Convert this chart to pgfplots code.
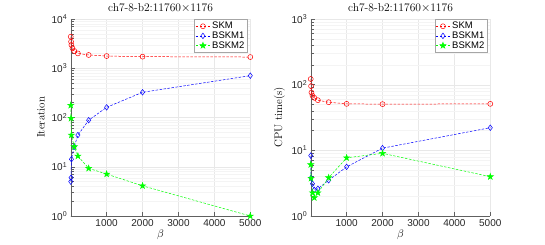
\documentclass[border=0pt]{standalone}
\usepackage{fontspec}
\usepackage{pgfplots}
\pgfplotsset{compat=1.18}
\newfontfamily\hv{Liberation Sans}
\definecolor{mred}{rgb}{1,0,0}
\definecolor{mblue}{rgb}{0,0,1}
\definecolor{mgreen}{rgb}{0,1,0}
\pgfdeclareplotmark{pentagram}{%
  \pgfpathmoveto{\pgfpointpolar{90}{\pgfplotmarksize}}%
  \pgfpathlineto{\pgfpointpolar{126}{0.382\pgfplotmarksize}}%
  \pgfpathlineto{\pgfpointpolar{162}{\pgfplotmarksize}}%
  \pgfpathlineto{\pgfpointpolar{198}{0.382\pgfplotmarksize}}%
  \pgfpathlineto{\pgfpointpolar{234}{\pgfplotmarksize}}%
  \pgfpathlineto{\pgfpointpolar{270}{0.382\pgfplotmarksize}}%
  \pgfpathlineto{\pgfpointpolar{306}{\pgfplotmarksize}}%
  \pgfpathlineto{\pgfpointpolar{342}{0.382\pgfplotmarksize}}%
  \pgfpathlineto{\pgfpointpolar{18}{\pgfplotmarksize}}%
  \pgfpathlineto{\pgfpointpolar{54}{0.382\pgfplotmarksize}}%
  \pgfpathclose
  \pgfusepathqfillstroke}
\pgfplotsset{
  mstyle/.style={
    scale only axis, width=179.6pt, height=197pt,
    xmin=0, xmax=5000,
    xtick={1000,2000,3000,4000,5000},
    xticklabels={1000,2000,3000,4000,5000},
    axis x line*=bottom, axis y line*=left,
    axis line style={gray!75!black, line width=0.4pt},
    tick style={gray!75!black, line width=0.4pt},
    tick align=inside,
    xmajorgrids, ymajorgrids, yminorgrids,
    major grid style={gray!18, line width=0.3pt},
    minor grid style={gray!9, line width=0.3pt},
    tick label style={font=\hv\fontsize{10}{11}\selectfont, text=black!85},
    label style={font=\fontsize{11}{13}\selectfont},
    title style={font=\fontsize{11.5}{13}\selectfont, yshift=-3pt},
    xlabel={$\beta$},
    xlabel style={yshift=4pt},
    legend style={at={(rel axis cs:0.985,1)}, anchor=north east,
      font=\hv\fontsize{9.5}{10.5}\selectfont, draw=gray!70, inner sep=1pt,
      row sep=-2.5pt, cells={anchor=west}},
    legend image code/.code={%
      \draw[mark repeat=2,mark phase=2] plot coordinates {(0pt,0pt)(7pt,0pt)(14pt,0pt)};},
  },
  skm/.style={color=mred, line width=0.5pt, dash pattern=on 2.5pt off 1.5pt, mark=o, mark size=2.5pt, mark options={solid}},
  b1/.style={color=mblue, line width=0.5pt, dash pattern=on 2.5pt off 1.5pt, mark=diamond, mark size=2.8pt, mark options={solid}},
  b2/.style={color=mgreen, line width=0.5pt, dash pattern=on 2.5pt off 1.5pt, mark=pentagram, mark size=3.2pt, mark options={solid, fill=mgreen}},
}
\begin{document}
\begin{tikzpicture}
\path[use as bounding box] (0,0) rectangle (545pt,245pt);
\begin{axis}[ymode=log, mstyle, at={(70.7pt,29pt)}, anchor=south west,
  ymin=1, ymax=10000, ytick={1,10,100,1000,10000},
  yticklabels={10\textsuperscript{0},10\textsuperscript{1},10\textsuperscript{2},10\textsuperscript{3},10\textsuperscript{4}},
  ylabel={Iteration}, title={ch7-8-b2:11760$\times$1176}]
\addplot[skm] coordinates {(1,4370)(10,3460)(20,2970)(50,2540)(100,2240)(200,2000)(500,1860)(1000,1770)(2000,1720)(5000,1690)};
\addplot[b1] coordinates {(1,5.0)(10,6.0)(20,14.2)(100,25.6)(200,44)(500,88)(1000,161)(2000,325)(5000,707)};
\addplot[b2] coordinates {(1,177)(10,96)(20,44)(100,25.5)(200,16.5)(500,9.3)(1000,7.1)(2000,4.1)(5000,1.0)};
\legend{SKM,BSKM1,BSKM2}
\end{axis}
\begin{axis}[ymode=log, mstyle, at={(310.7pt,29pt)}, anchor=south west,
  ymin=1, ymax=1000, ytick={1,10,100,1000},
  yticklabels={10\textsuperscript{0},10\textsuperscript{1},10\textsuperscript{2},10\textsuperscript{3}},
  ylabel={CPU time(s)}, title={ch7-8-b2:11760$\times$1176}]
\addplot[skm] coordinates {(1,122)(10,95)(20,76)(50,68)(100,63)(200,58)(500,54)(1000,51)(2000,50.5)(5000,51)};
\addplot[b1] coordinates {(1,8.3)(10,3.8)(50,3.1)(100,2.5)(200,2.6)(500,3.5)(1000,5.6)(2000,10.8)(5000,22.1)};
\addplot[b2] coordinates {(1,6.05)(10,3.75)(50,2.26)(100,1.9)(200,2.26)(500,3.83)(1000,7.7)(2000,9.0)(5000,3.97)};
\legend{SKM,BSKM1,BSKM2}
\end{axis}
\end{tikzpicture}
\end{document}
